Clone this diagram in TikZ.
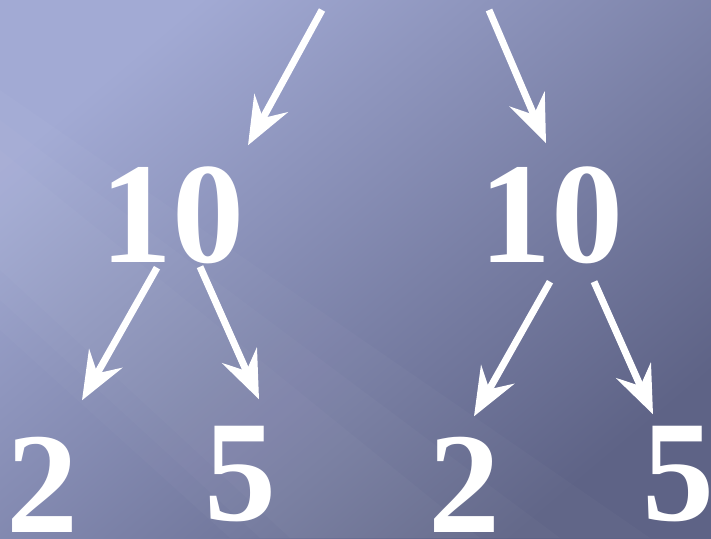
\documentclass[tikz,border=0pt]{standalone}
\usepackage{fontspec}
\setmainfont{Liberation Serif}
\usetikzlibrary{arrows.meta, positioning}

\definecolor{bgLight}{HTML}{A2AAD4}
\definecolor{bgDark}{HTML}{5E6386}

\begin{document}
\begin{tikzpicture}[x=1pt, y=-1pt,
    num/.style = {text=white, font=\bfseries\fontsize{144}{144}\selectfont,
      inner sep=0pt, text height=97pt, text depth=0pt},
    arr/.style = {draw=white, line width=7pt,
      -{Stealth[length=48pt, width=38pt, inset=17pt]}},
    streak/.style = {fill=white, opacity=0.025}
  ]
    % background
    \useasboundingbox (0,0) rectangle (711,538);
    \shade[top color=bgLight, bottom color=bgDark, shading angle=40]
      (0,0) rectangle (711,538);
    \fill[streak] (0,90) -- (650,538) -- (230,538) -- (0,330) -- cycle;
    \fill[streak] (0,120) -- (560,538) -- (260,538) -- (0,300) -- cycle;
    \fill[streak] (0,150) -- (480,538) -- (290,538) -- (0,270) -- cycle;

    \node[num] (tenL) at (172,214) {10};
    \node[num] (tenR) at (551,214) {10};
    \node[num] (twoL) at (42,484) {2};
    \node[num] (fiveL) at (240,472) {5};
    \node[num] (twoR) at (464,484) {2};
    \node[num] (fiveR) at (678,472) {5};

    \coordinate (topL) at (322,10);
    \coordinate (topR) at (489,10);

    \draw[arr] (topL) -- ([xshift=76pt, yshift=20pt]tenL.north);
    \draw[arr] (topR) -- ([xshift=-5pt, yshift=22pt]tenR.north);
    \draw[arr] ([xshift=-15pt, yshift=-5pt]tenL.south) -- ([xshift=40pt, yshift=35pt]twoL.north);
    \draw[arr] ([xshift=28pt, yshift=-4pt]tenL.south) -- ([xshift=19pt, yshift=24pt]fiveL.north);
    \draw[arr] ([xshift=-1pt, yshift=-19pt]tenR.south) -- ([xshift=10pt, yshift=19pt]twoR.north);
    \draw[arr] ([xshift=43pt, yshift=-19pt]tenR.south) -- ([xshift=-25pt, yshift=9pt]fiveR.north);
\end{tikzpicture}
\end{document}
